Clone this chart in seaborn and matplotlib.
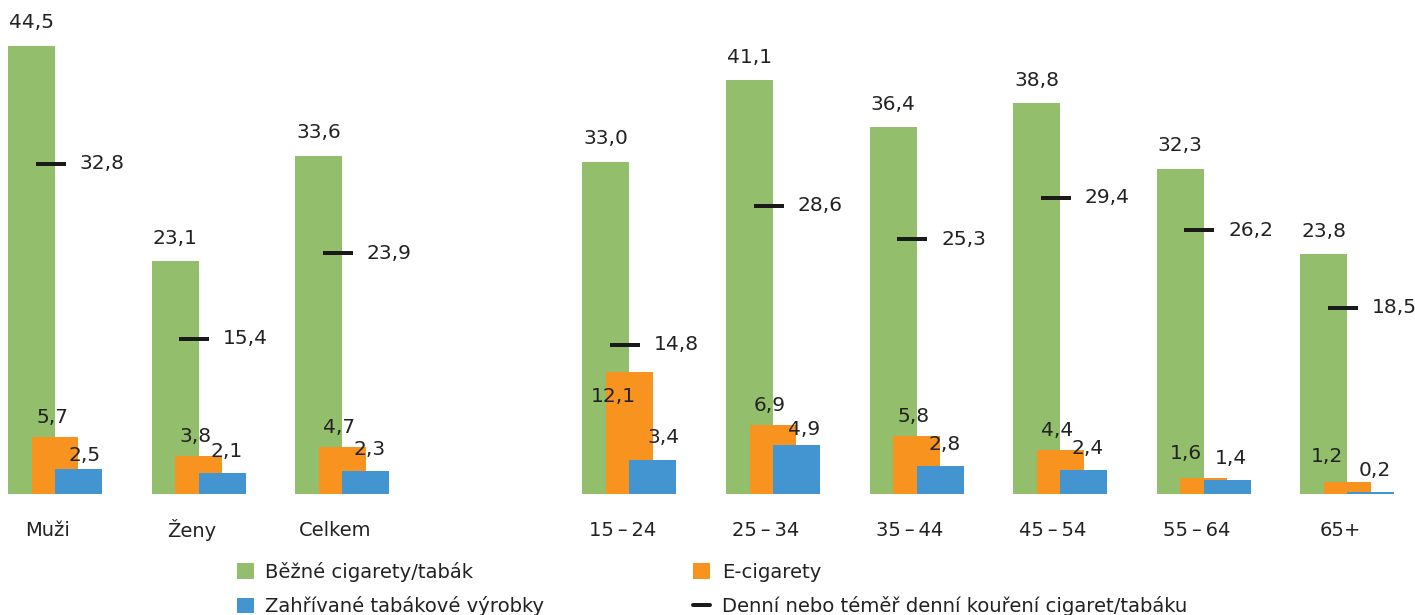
import matplotlib
matplotlib.use("Agg")
import matplotlib.pyplot as plt
from matplotlib.patches import Patch
from matplotlib.lines import Line2D
import numpy as np
import pandas as pd
import seaborn as sns

# --- data -------------------------------------------------------------
groups = ["Muži", "Ženy", "Celkem",
          "15\u2009–\u200924", "25\u2009–\u200934", "35\u2009–\u200944",
          "45\u2009–\u200954", "55\u2009–\u200964", "65+"]
cigarettes = [44.5, 23.1, 33.6, 33.0, 41.1, 36.4, 38.8, 32.3, 23.8]
ecigarettes = [5.7, 3.8, 4.7, 12.1, 6.9, 5.8, 4.4, 1.6, 1.2]
heated = [2.5, 2.1, 2.3, 3.4, 4.9, 2.8, 2.4, 1.4, 0.2]
daily = [32.8, 15.4, 23.9, 14.8, 28.6, 25.3, 29.4, 26.2, 18.5]

series_names = ["Běžné cigarety/tabák", "E-cigarety",
                "Zahřívané tabákové výrobky",
                "Denní nebo téměř denní kouření cigaret/tabáku"]

# --- layout -------------------------------------------------------------
# slot index per group; slot 3 is left empty to separate sex from age groups
slots = np.array([0, 1, 2, 4, 5, 6, 7, 8, 9], dtype=float)
bar_w = 0.327
offsets = {"green": -0.164, "orange": 0.0, "blue": 0.164}
colors = {"green": "#93BE6B", "orange": "#F7931E", "blue": "#4295D1"}
text_color = "#222222"

sns.set_theme(style="white")
plt.rcParams["font.family"] = ["DejaVu Sans"]

W, H, DPI = 1415, 615, 100
fig = plt.figure(figsize=(W / DPI, H / DPI), dpi=DPI)
base_px = 494
ax = fig.add_axes([0, (H - base_px) / H, 1, base_px / H])

px_per_slot = 143.6
left_px = 55
ax.set_xlim(-left_px / px_per_slot, (W - left_px) / px_per_slot)
ax.set_ylim(0, base_px / 10.07)


def px(v):
    return v * 72 / DPI  # pixels -> points


series = [("green", cigarettes), ("orange", ecigarettes), ("blue", heated)]
for key, vals in series:
    df = pd.DataFrame({"x": slots + offsets[key], "y": vals})
    sns.barplot(data=df, x="x", y="y", native_scale=True, width=bar_w,
                color=colors[key], saturation=1, linewidth=0, ax=ax,
                errorbar=None)

# daily smoking markers
dash_df = pd.DataFrame({"x": slots - 0.03, "y": daily})
sns.scatterplot(data=dash_df, x="x", y="y", marker="_", s=px(30) ** 2,
                color="#1a1a1a", linewidth=px(4), ax=ax, zorder=6)

num_fs = 14.5


def fmt(v):
    return f"{v:.1f}".replace(".", ",")


# value labels (dx, dy in pixels relative to bar centre / top)
orange_nudge = {3: (-16, -24), 7: (-18, 24), 8: (-20, 25)}
blue_nudge = {0: (6, 13), 3: (11, 22), 4: (8, 15)}
for i in range(len(groups)):
    ax.annotate(fmt(cigarettes[i]), (slots[i] + offsets["green"], cigarettes[i]),
                xytext=(0, px(23)), textcoords="offset points",
                ha="center", va="center", fontsize=num_fs, color=text_color,
                zorder=10)
    dx, dy = orange_nudge.get(i, (-3, 19))
    ax.annotate(fmt(ecigarettes[i]), (slots[i] + offsets["orange"], ecigarettes[i]),
                xytext=(px(dx), px(dy)), textcoords="offset points",
                ha="center", va="center", fontsize=num_fs, color=text_color,
                zorder=10)
    dx, dy = blue_nudge.get(i, (4, 21))
    ax.annotate(fmt(heated[i]), (slots[i] + offsets["blue"], heated[i]),
                xytext=(px(dx), px(dy)), textcoords="offset points",
                ha="center", va="center", fontsize=num_fs, color=text_color,
                zorder=10)
    ax.annotate(fmt(daily[i]), (slots[i] - 0.03, daily[i]),
                xytext=(px(15 + 14), 0), textcoords="offset points",
                ha="left", va="center", fontsize=num_fs, color=text_color,
                zorder=10)

ax.set_xticks(slots - 0.05)
ax.set_xticklabels(groups, fontsize=14, color=text_color)
for t in ax.get_xticklabels():
    t.set_verticalalignment("center_baseline")
ax.tick_params(axis="x", length=0, pad=px(34))
ax.set_yticks([])
ax.set_xlabel("")
ax.set_ylabel("")
for s in ax.spines.values():
    s.set_visible(False)

handles = [
    Patch(facecolor=colors["green"], edgecolor="none"),
    Patch(facecolor=colors["blue"], edgecolor="none"),
    Patch(facecolor=colors["orange"], edgecolor="none"),
    Line2D([], [], color="#1a1a1a", linewidth=px(4)),
]
labels = [series_names[0], series_names[2], series_names[1], series_names[3]]
fig.legend(handles, labels, loc="upper left", ncol=2, frameon=False,
           bbox_to_anchor=(237 / W, 1 - 562 / H), borderaxespad=0,
           borderpad=0, handlelength=0.85, handleheight=0.85,
           handletextpad=0.6, columnspacing=7.6, labelspacing=0.72,
           fontsize=14.1, labelcolor=text_color)

fig.savefig("out.png", dpi=DPI)
